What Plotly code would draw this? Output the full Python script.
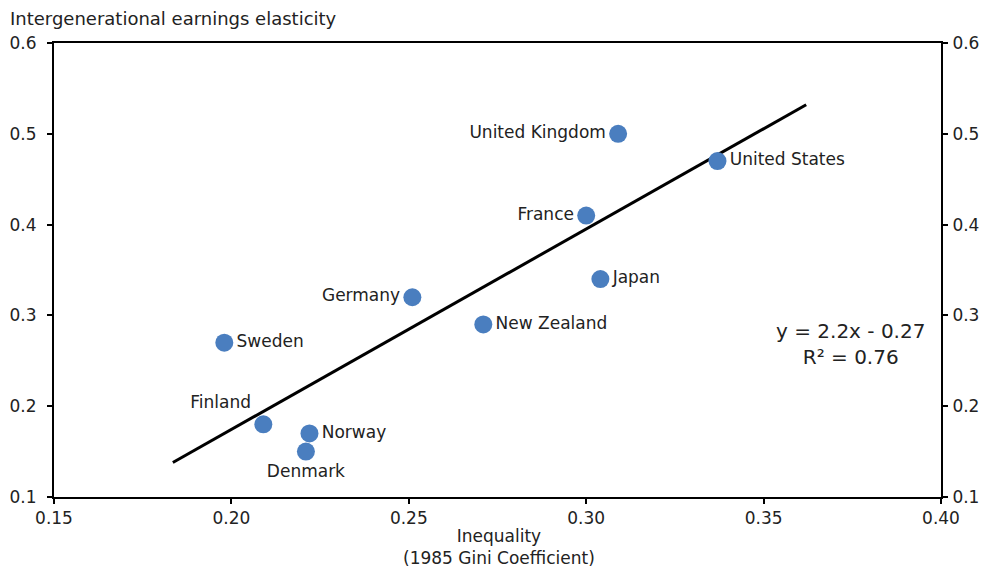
import plotly.graph_objects as go

countries = ["United Kingdom", "United States", "France", "Japan", "Germany",
             "New Zealand", "Sweden", "Finland", "Norway", "Denmark"]
gini = [0.309, 0.337, 0.300, 0.304, 0.251, 0.271, 0.198, 0.209, 0.222, 0.221]
elasticity = [0.50, 0.47, 0.41, 0.34, 0.32, 0.29, 0.27, 0.18, 0.17, 0.15]

trend_x = [0.1835, 0.362]
trend_y = [0.138, 0.532]

x_ticks = [0.15, 0.20, 0.25, 0.30, 0.35, 0.40]
y_ticks = [0.1, 0.2, 0.3, 0.4, 0.5, 0.6]

label_pos = ["middle left", "middle right", "middle left", "middle right", "middle left",
             "middle right", "middle right", "top left", "middle right", "bottom center"]

FONT = "DejaVu Sans, Liberation Sans, Arial, sans-serif"
TXT = "#222222"

fig = go.Figure()
fig.add_trace(go.Scatter(
    x=trend_x, y=trend_y, mode="lines",
    line=dict(color="black", width=3), showlegend=False, hoverinfo="skip"))
fig.add_trace(go.Scatter(
    x=gini, y=elasticity, mode="markers+text", text=countries,
    textposition=label_pos, textfont=dict(family=FONT, size=17, color=TXT),
    marker=dict(color="#4A7EBF", size=18, line=dict(width=0)),
    showlegend=False))
# invisible trace to anchor right axis
fig.add_trace(go.Scatter(x=[gini[0]], y=[elasticity[0]], yaxis="y2", mode="markers",
                         marker=dict(opacity=0), showlegend=False, hoverinfo="skip"))

axis_common = dict(showgrid=False, zeroline=False, showline=True, linecolor="black",
                   linewidth=2, ticks="outside", ticklen=5, tickcolor="black", tickwidth=1.5,
                   automargin=False,
                   tickfont=dict(family=FONT, size=17, color=TXT))

fig.update_layout(
    width=979, height=560,
    margin=dict(l=46, r=46, t=35, b=71),
    plot_bgcolor="white", paper_bgcolor="white",
    xaxis=dict(range=[0.15, 0.40], tickvals=x_ticks, tickformat=".2f",
               mirror=True, **axis_common),
    yaxis=dict(range=[0.1, 0.6], tickvals=y_ticks, tickformat=".1f",
               ticklabelstandoff=7, **axis_common),
    yaxis2=dict(range=[0.1, 0.6], tickvals=y_ticks, tickformat=".1f", overlaying="y",
                side="right", ticklabelstandoff=1, **axis_common),
    annotations=[
        dict(text="Intergenerational earnings elasticity", xref="paper", yref="paper",
             x=-0.0462, y=1, xanchor="left", yanchor="bottom", yshift=12, xshift=-5,
             showarrow=False, font=dict(family=FONT, size=18, color=TXT)),
        dict(text="Inequality<br>(1985 Gini Coefficient)", xref="paper", yref="paper",
             x=0.502, y=0, xanchor="center", yanchor="top", yshift=-27, showarrow=False,
             font=dict(family=FONT, size=17, color=TXT)),
        dict(text="y = 2.2x - 0.27<br>R² = 0.76", xref="x", yref="y",
             x=0.3746, y=0.2685, xanchor="center", yanchor="middle", align="center",
             showarrow=False, font=dict(family=FONT, size=20, color=TXT)),
    ],
)

fig.write_html("out.html")
